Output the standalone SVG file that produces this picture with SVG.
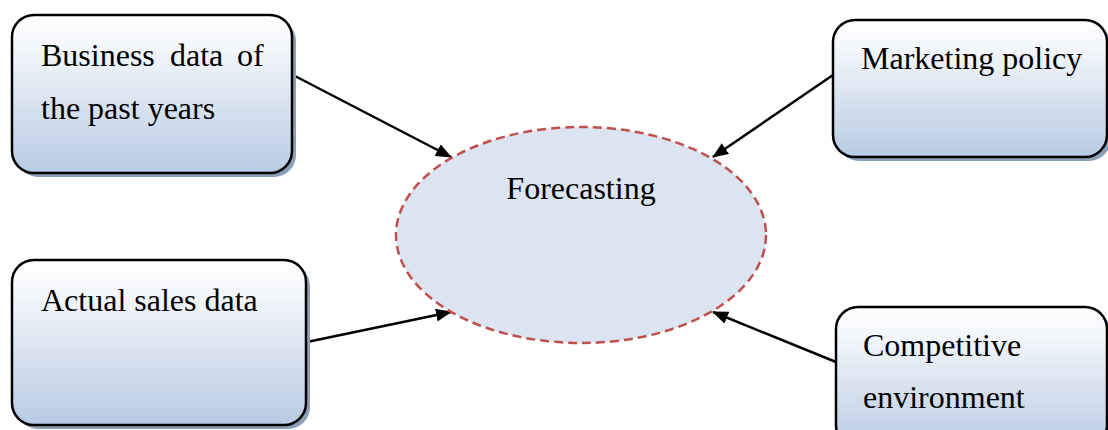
<svg xmlns="http://www.w3.org/2000/svg" width="1108" height="430" viewBox="0 0 1108 430">
<style>
.box{fill:url(#g);stroke:#000;stroke-width:2.5}
.sh{fill:#8c9fb8}
.t{font-family:"Liberation Serif",serif;font-size:32px;fill:#000}
.c{stroke:#000;stroke-width:2.5;fill:none;marker-end:url(#ah)}
</style>
<defs>
<linearGradient id="g" x1="0" y1="0" x2="0" y2="1">
<stop offset="0" stop-color="#ffffff"/>
<stop offset="0.2" stop-color="#f4f7fb"/>
<stop offset="1" stop-color="#b8cbe3"/>
</linearGradient>
<marker id="ah" viewBox="0 0 16 13" refX="15" refY="6.5" markerWidth="16" markerHeight="13" markerUnits="userSpaceOnUse" orient="auto">
<path d="M0,0 L16,6.5 L0,13 z" fill="#000"/>
</marker>
</defs>
<g id="connectors">
<line class="c" x1="293" y1="75" x2="451" y2="157"/>
<line class="c" x1="833" y1="75" x2="713" y2="157"/>
<line class="c" x1="307" y1="342" x2="451" y2="312"/>
<line class="c" x1="836" y1="362" x2="713" y2="312"/>
</g>
<g id="n-forecast">
<ellipse cx="581" cy="235" rx="185" ry="108" fill="#dbe4f0" stroke="#c0504d" stroke-width="2.5" stroke-dasharray="9,5"/>
<text class="t" x="581" y="199" text-anchor="middle">Forecasting</text>
</g>
<g id="n-business">
<rect class="sh" x="16" y="19" width="280" height="158" rx="22"/>
<rect class="box" x="12" y="15" width="280" height="158" rx="22"/>
<text class="t" y="66"><tspan x="41">Business</tspan><tspan x="170">data</tspan><tspan x="237">of</tspan></text>
<text class="t" x="41" y="119">the past years</text>
</g>
<g id="n-marketing">
<rect class="sh" x="837" y="24" width="274" height="137" rx="22"/>
<rect class="box" x="833" y="20" width="274" height="137" rx="22"/>
<text class="t" x="861" y="69">Marketing policy</text>
</g>
<g id="n-actual">
<rect class="sh" x="16" y="264" width="294" height="165" rx="22"/>
<rect class="box" x="12" y="260" width="294" height="165" rx="22"/>
<text class="t" x="41" y="311">Actual sales data</text>
</g>
<g id="n-competitive">
<rect class="sh" x="840" y="311" width="271" height="140" rx="22"/>
<rect class="box" x="836" y="307" width="271" height="140" rx="22"/>
<text class="t" x="863" y="356">Competitive</text>
<text class="t" x="863" y="408">environment</text>
</g>
</svg>
